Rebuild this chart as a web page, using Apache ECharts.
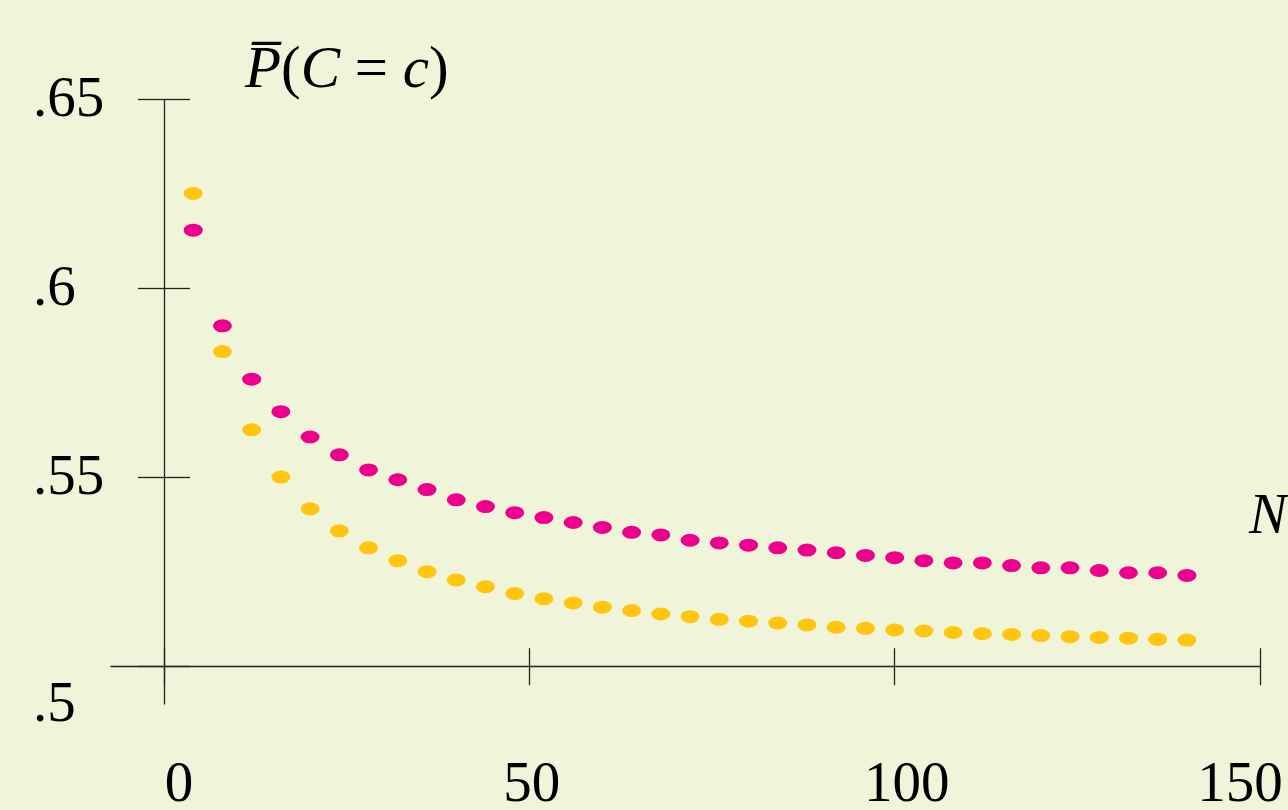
<!DOCTYPE html>
<html>
<head>
<meta charset="utf-8">
<script src="https://cdn.jsdelivr.net/npm/echarts@6/dist/echarts.min.js"></script>
<style>
  html, body { margin: 0; padding: 0; background: #f0f5da; }
  #main { width: 1288px; height: 810px; }
</style>
</head>
<body>
<div id="main"></div>
<script>
var serif = "'Liberation Serif', 'Times New Roman', serif";

// N values (x)
var nValues = [4, 8, 12, 16, 20, 24, 28, 32, 36, 40, 44, 48, 52, 56, 60, 64, 68, 72,
    76, 80, 84, 88, 92, 96, 100, 104, 108, 112, 116, 120, 124, 128, 132, 136, 140];
// magenta series
var pinkVals = [0.6154, 0.5901, 0.5760, 0.5674, 0.5607, 0.5560, 0.5520, 0.5494, 0.5468, 0.5441,
    0.5423, 0.5407, 0.5394, 0.5381, 0.5368, 0.5355, 0.5348, 0.5334, 0.5327, 0.5321,
    0.5314, 0.5308, 0.5301, 0.5294, 0.5288, 0.5280, 0.5274, 0.5274, 0.5267, 0.5261,
    0.5261, 0.5254, 0.5248, 0.5248, 0.5241];
// yellow series
var yellowVals = [0.6251, 0.5833, 0.5626, 0.5501, 0.5417, 0.5359, 0.5314, 0.5280, 0.5251, 0.5229,
    0.5211, 0.5193, 0.5179, 0.5168, 0.5157, 0.5148, 0.5139, 0.5132, 0.5125, 0.5120,
    0.5115, 0.5110, 0.5104, 0.5101, 0.5097, 0.5094, 0.5090, 0.5087, 0.5085, 0.5082,
    0.5079, 0.5077, 0.5075, 0.5072, 0.5070];
// ticks
var xTicks = [0, 50, 100, 150];
var yTicks = [0.5, 0.55, 0.6, 0.65];

function pairs(xs, ys) {
    var out = [];
    for (var i = 0; i < xs.length; i++) out.push([xs[i], ys[i]]);
    return out;
}

var chart = echarts.init(document.getElementById('main'));

var lineStyle = { color: '#222', width: 1.3 };

var xLabelRich = {
    x0: { fontFamily: serif, fontSize: 57, color: '#000', padding: [0, 0, 0, 30] },
    x50: { fontFamily: serif, fontSize: 57, color: '#000', padding: [0, 0, 0, 5] },
    x100: { fontFamily: serif, fontSize: 57, color: '#000', padding: [0, 0, 0, 24] },
    x150: { fontFamily: serif, fontSize: 57, color: '#000', padding: [0, 40, 0, 0] }
};
var yLabelRich = {
    a: { fontFamily: serif, fontSize: 57, color: '#000', padding: [4, 0, 0, 0] },
    b: { fontFamily: serif, fontSize: 57, color: '#000', padding: [78, 0, 0, 0] }
};

var xBase = {
    type: 'value', min: -7.25, max: 150, offset: -37.3, position: 'bottom',
    splitLine: { show: false }
};
var yBase = {
    type: 'value', min: 0.4901, max: 0.65, offset: -53, position: 'left',
    splitLine: { show: false }
};

var option = {
    backgroundColor: '#f0f5da',
    animation: false,
    grid: { left: 111, right: 28, top: 99.3, bottom: 106, outerBoundsMode: 'none' },
    xAxis: [
        Object.assign({}, xBase, {
            axisLine: { show: true, onZero: false, lineStyle: lineStyle },
            axisTick: { show: true, inside: false, length: 18.5, customValues: xTicks, lineStyle: lineStyle },
            axisLabel: {
                show: true, margin: 91, customValues: xTicks,
                formatter: function (v) { return '{x' + v + '|' + v + '}'; },
                rich: xLabelRich
            }
        }),
        Object.assign({}, xBase, {
            axisLine: { show: false, onZero: false },
            axisTick: { show: true, inside: true, length: 18.5, customValues: xTicks, lineStyle: lineStyle },
            axisLabel: { show: false }
        })
    ],
    yAxis: [
        Object.assign({}, yBase, {
            axisLine: { show: true, onZero: false, lineStyle: lineStyle },
            axisTick: { show: true, inside: false, length: 26, customValues: yTicks, lineStyle: lineStyle },
            axisLabel: {
                show: true, margin: 131, align: 'left', customValues: yTicks,
                formatter: function (v) {
                    var s = String(v).replace('0.', '.');
                    return v === 0.5 ? '{b|' + s + '}' : '{a|' + s + '}';
                },
                rich: yLabelRich
            }
        }),
        Object.assign({}, yBase, {
            axisLine: { show: false, onZero: false },
            axisTick: { show: true, inside: true, length: 26, customValues: yTicks, lineStyle: lineStyle },
            axisLabel: { show: false }
        })
    ],
    graphic: [
        {
            type: 'text', left: 245, top: 42,
            style: {
                text: '{i|P\u0305}{r|(}{i|C}{r| = }{i|c}{r|)}',
                rich: {
                    i: { fontFamily: serif, fontSize: 59, fontStyle: 'italic', fill: '#000' },
                    r: { fontFamily: serif, fontSize: 59, fill: '#000' }
                }
            }
        },
        {
            type: 'text', left: 1249, top: 490,
            style: { text: 'N', fontFamily: serif, fontSize: 57, fontStyle: 'italic', fill: '#000' }
        }
    ],
    series: [
        {
            type: 'scatter', name: 'yellow', symbol: 'circle', symbolSize: [19, 13],
            itemStyle: { color: '#ffc50f', opacity: 1 },
            data: pairs(nValues, yellowVals)
        },
        {
            type: 'scatter', name: 'pink', symbol: 'circle', symbolSize: [19, 13],
            itemStyle: { color: '#ec008c', opacity: 1 },
            data: pairs(nValues, pinkVals)
        }
    ]
};

chart.setOption(option);
</script>
</body>
</html>
